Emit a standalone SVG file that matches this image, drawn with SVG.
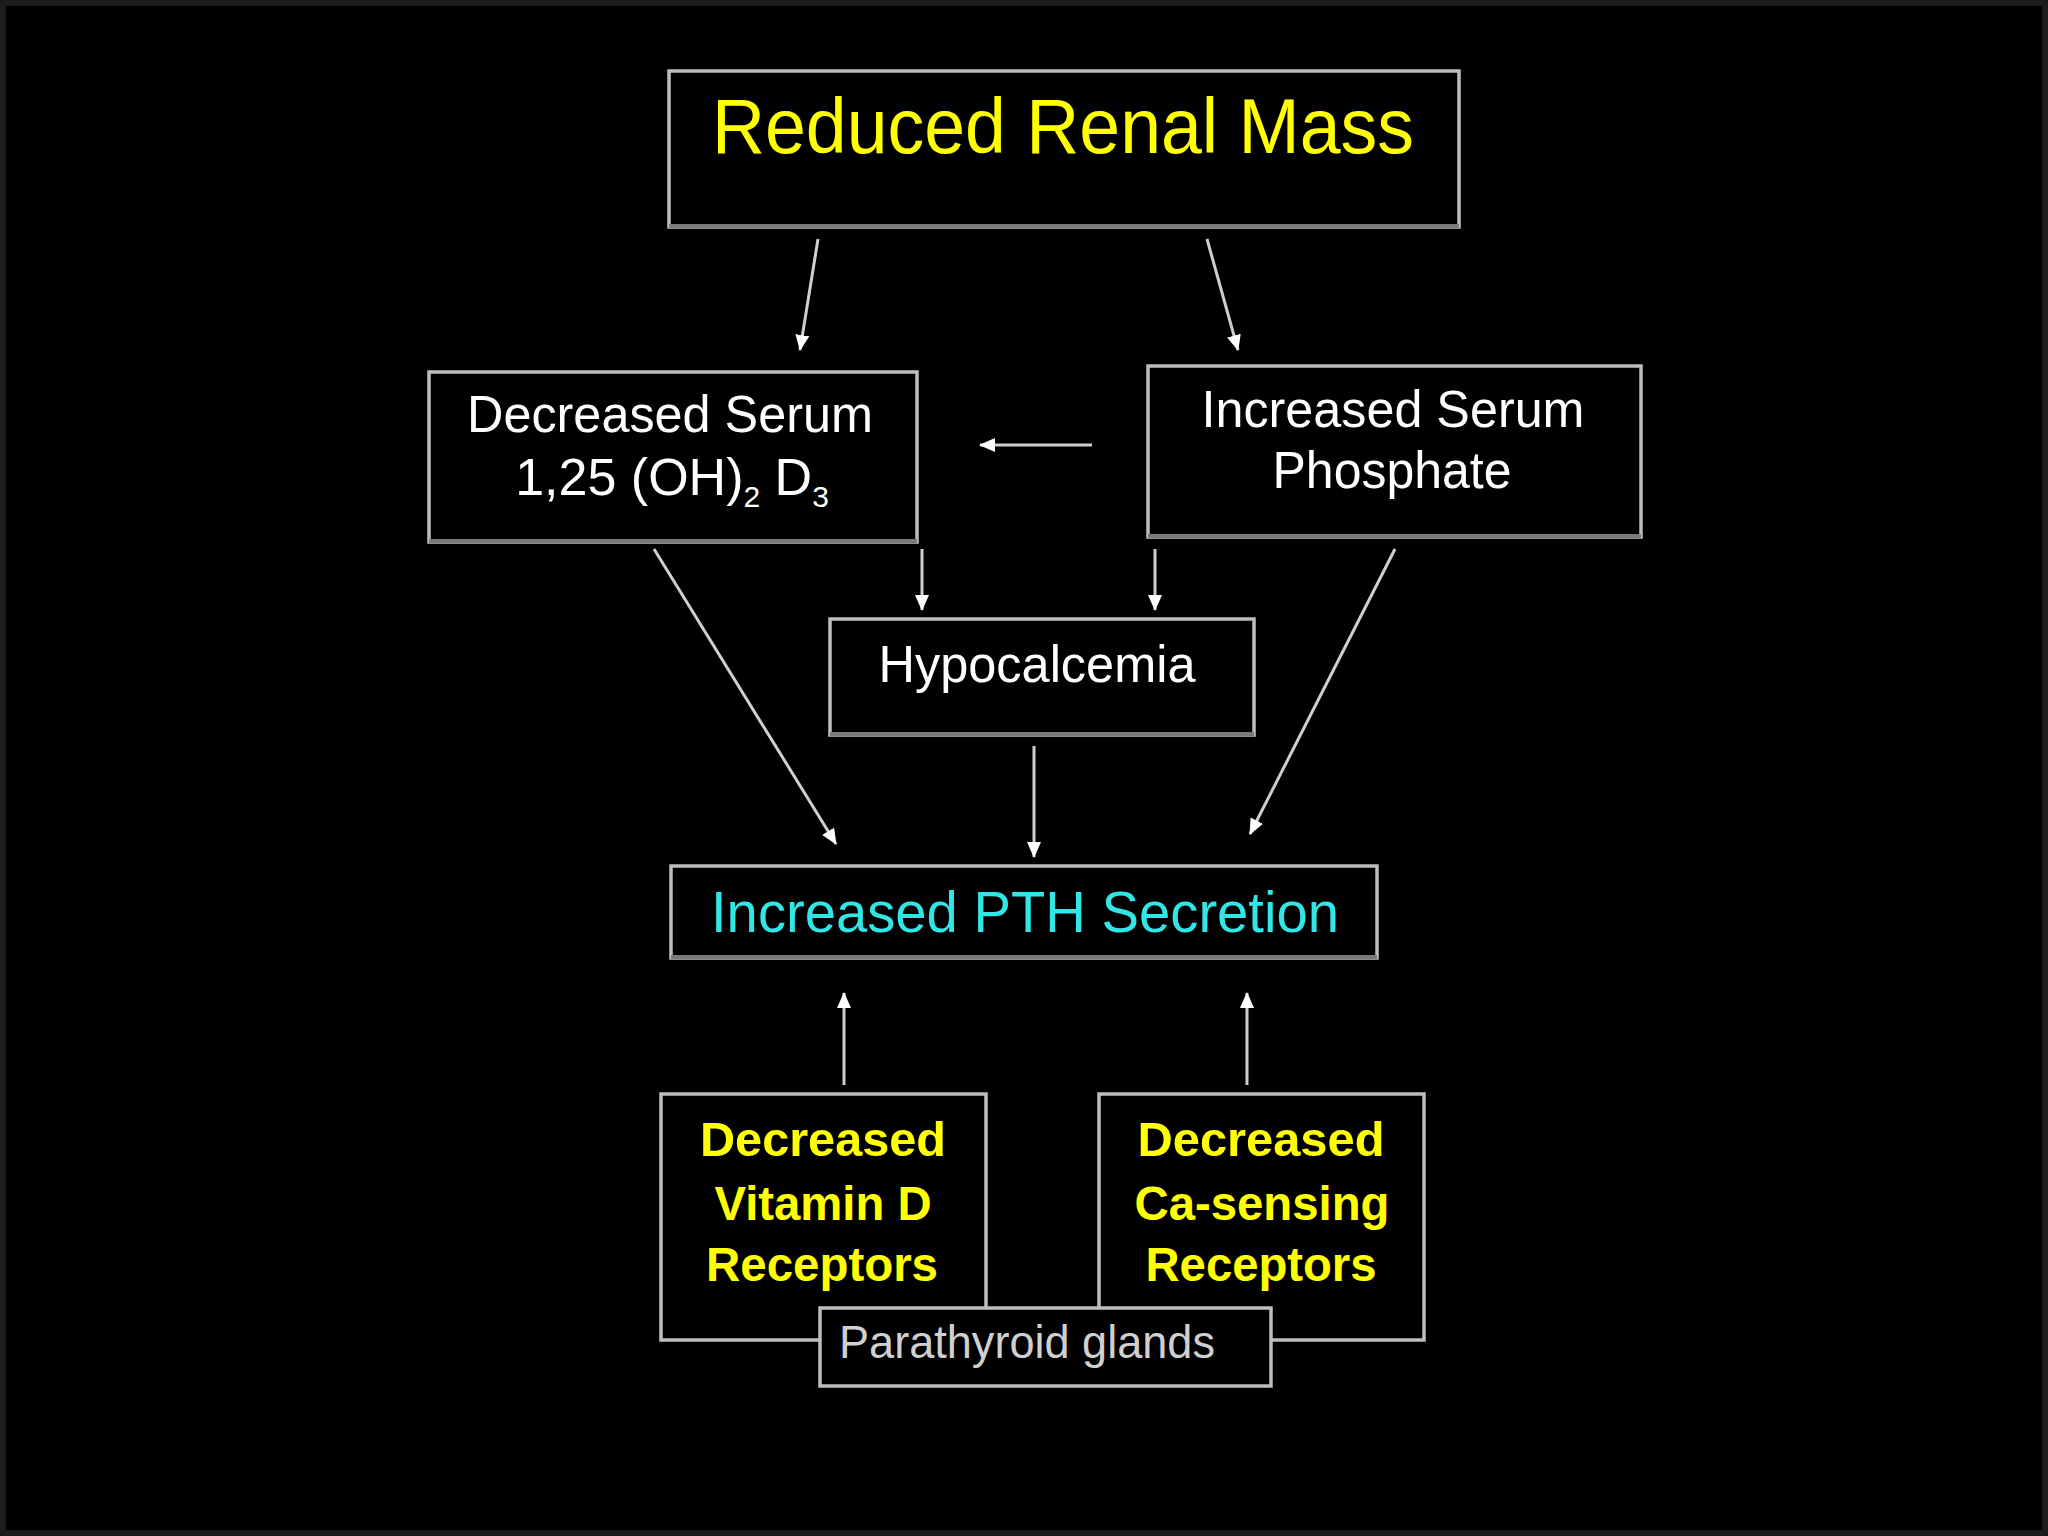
<svg xmlns="http://www.w3.org/2000/svg" width="2048" height="1536" viewBox="0 0 2048 1536">
<defs>
<marker id="ah" markerUnits="userSpaceOnUse" markerWidth="16" markerHeight="18" viewBox="0 0 16 18" refX="15" refY="9" orient="auto">
<path d="M0,2 L16,9 L0,16 Z" fill="#ffffff"/>
</marker>
<style>
.box{fill:#000;stroke:#bdbdbd;stroke-width:3.5}
.shade{stroke:#7a7a7a;stroke-width:4}
.conn line{stroke:#cfcfcf;stroke-width:3;marker-end:url(#ah)}
text{font-family:"Liberation Sans",Arial,sans-serif;text-anchor:middle}
.w{fill:#ffffff;font-size:52px}
.y{fill:#ffff00}
.c{fill:#33e6e6;font-size:58px}
.g{fill:#d0d0d0;font-size:46px}
.b{font-weight:bold;font-size:48px}
</style>
</defs>
<rect x="0" y="0" width="2048" height="1536" fill="#000"/>
<rect x="3" y="3" width="2042" height="1530" fill="none" stroke="#1c1c1c" stroke-width="6"/>

<g id="connectors" class="conn">
<line x1="818" y1="239" x2="800" y2="350"/>
<line x1="1207" y1="239" x2="1238" y2="350"/>
<line x1="1092" y1="445" x2="980" y2="445"/>
<line x1="922" y1="549" x2="922" y2="610"/>
<line x1="1155" y1="549" x2="1155" y2="610"/>
<line x1="654" y1="549" x2="836" y2="844"/>
<line x1="1395" y1="549" x2="1250" y2="834"/>
<line x1="1034" y1="746" x2="1034" y2="857"/>
<line x1="844" y1="1085" x2="844" y2="993"/>
<line x1="1247" y1="1085" x2="1247" y2="993"/>
</g>

<g id="reduced-renal-mass">
<rect class="box" x="669" y="71" width="790" height="156"/>
<line class="shade" x1="669" y1="226" x2="1459" y2="226"/>
<text class="y" x="1063" y="153" font-size="78" textLength="702" lengthAdjust="spacingAndGlyphs">Reduced Renal Mass</text>
</g>

<g id="decreased-serum">
<rect class="box" x="429" y="372" width="488" height="170"/>
<line class="shade" x1="429" y1="541" x2="917" y2="541"/>
<text class="w" x="670" y="432" textLength="406" lengthAdjust="spacingAndGlyphs">Decreased Serum</text>
<text class="w" x="672" y="495">1,25 (OH)<tspan font-size="30" dy="12">2</tspan><tspan dy="-12"> D</tspan><tspan font-size="30" dy="12">3</tspan></text>
</g>

<g id="increased-serum-phosphate">
<rect class="box" x="1148" y="366" width="493" height="171"/>
<line class="shade" x1="1148" y1="536" x2="1641" y2="536"/>
<text class="w" x="1393" y="427" textLength="383" lengthAdjust="spacingAndGlyphs">Increased Serum</text>
<text class="w" x="1392" y="488" textLength="239" lengthAdjust="spacingAndGlyphs">Phosphate</text>
</g>

<g id="hypocalcemia">
<rect class="box" x="830" y="619" width="424" height="116"/>
<line class="shade" x1="830" y1="734" x2="1254" y2="734"/>
<text class="w" x="1037" y="682" textLength="317" lengthAdjust="spacingAndGlyphs">Hypocalcemia</text>
</g>

<g id="increased-pth-secretion">
<rect class="box" x="671" y="866" width="706" height="92"/>
<line class="shade" x1="671" y1="957" x2="1377" y2="957"/>
<text class="c" x="1025" y="932" textLength="628" lengthAdjust="spacingAndGlyphs">Increased PTH Secretion</text>
</g>

<g id="decreased-vitamin-d-receptors">
<rect class="box" x="661" y="1094" width="325" height="246"/>
<text class="y b" x="823" y="1156" textLength="246" lengthAdjust="spacingAndGlyphs">Decreased</text>
<text class="y b" x="823" y="1220" textLength="217" lengthAdjust="spacingAndGlyphs">Vitamin D</text>
<text class="y b" x="822" y="1281" textLength="232" lengthAdjust="spacingAndGlyphs">Receptors</text>
</g>

<g id="decreased-ca-sensing-receptors">
<rect class="box" x="1099" y="1094" width="325" height="246"/>
<text class="y b" x="1261" y="1156" textLength="247" lengthAdjust="spacingAndGlyphs">Decreased</text>
<text class="y b" x="1262" y="1220" textLength="255" lengthAdjust="spacingAndGlyphs">Ca-sensing</text>
<text class="y b" x="1261" y="1281" textLength="231" lengthAdjust="spacingAndGlyphs">Receptors</text>
</g>

<g id="parathyroid-glands">
<rect class="box" x="820" y="1308" width="451" height="78"/>
<text class="g" x="1027" y="1358" textLength="376" lengthAdjust="spacingAndGlyphs">Parathyroid glands</text>
</g>
</svg>
